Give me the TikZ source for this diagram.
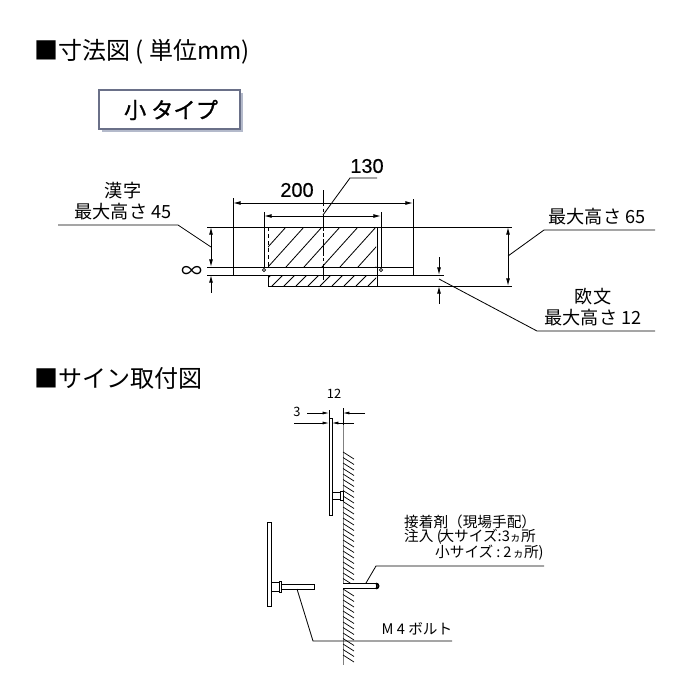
\documentclass[tikz,border=0pt]{standalone}
\usepackage{fontspec}
\setmainfont{Noto Sans CJK JP}
\newfontfamily\numfont[FakeBold=0.4]{Liberation Sans}
\newfontfamily\typefont[FakeBold=1]{Noto Sans CJK JP}
\usetikzlibrary{arrows.meta}
\definecolor{boxedge}{HTML}{6A7088}
\definecolor{boxshade}{HTML}{B4BACB}
\newcommand{\smallka}{{\fontsize{9.5}{9.5}\selectfont ヵ}}
\tikzset{
  title/.style={anchor=west,inner sep=0pt,font=\fontsize{20.5}{21}\selectfont},
  note/.style={inner sep=0pt,align=center,font=\fontsize{15.5}{18.5}\selectfont},
  small/.style={inner sep=0pt,anchor=west,font=\fontsize{12.5}{14}\selectfont},
  dimnum/.style={inner sep=0pt,font=\fontsize{17}{17}\selectfont\numfont},
  thin line/.style={line width=0.7pt},
  part/.style={line width=0.8pt},
  plate/.style={line width=0.6pt},
  dim/.style={line width=0.8pt,>={Latex[length=6.5pt,width=3.4pt]}},
  hatch/.style={line width=0.7pt}
}
\begin{document}
\begin{tikzpicture}[x=0.03cm,y=-0.03cm]
    \useasboundingbox (0,0) rectangle (700,700);
      %headings and the type box
    \node[title] (head1) at (34,52) {■寸法図 ( 単位mm)};
    \node[title] (head2) at (34,378) {■サイン取付図};
    \fill[boxshade] (102,93) rectangle (243,132);
    \filldraw[draw=boxedge,fill=white,line width=0.9pt] (99,90) rectangle (240,129);
    \node[inner sep=0pt,font=\fontsize{19}{19}\selectfont\typefont] (type) at (171,110) {小 タイプ};

      %hatching first, the lines go on top
    \begin{scope}
      \clip (268,227) rectangle (376,267);
      \foreach \x in {214,232,...,376}
        \draw[hatch] (\x,267) -- (\x+36,227);
    \end{scope}
    \begin{scope}
      \clip (268,275) rectangle (376,286);
      \foreach \x in {260,272,...,380}
        \draw[hatch] (\x,286) -- (\x+11,275);
    \end{scope}

      %front view
    \draw[part] (207,227) -- (512,227);
    \draw[part] (207,267) -- (413,267);
    \draw[part] (207,275) -- (444,275);
    \draw[part] (268,286) -- (512,286);
    \draw[thin line,dashed] (268,227) -- (268,267);
    \draw[thin line] (268,275) -- (268,286);
    \draw[thin line] (377,227) -- (377,286);
    \draw[thin line,dash pattern=on 14pt off 2pt on 3pt off 2pt] (323,190) -- (323,282);
    \draw[thin line] (233,198) -- (233,275);
    \draw[thin line] (413,199) -- (413,275);
    \draw[thin line] (264,212) -- (264,268);
    \draw[thin line] (381,212) -- (381,268);
    \draw[thin line,fill=white] (264,270) circle (1.6);
    \draw[thin line,fill=white] (381,270) circle (1.6);

      %dimensions
    \draw[dim,<->] (233,203) -- (413,203);
    \draw[dim,<->] (264,216) -- (381,216);
    \node[dimnum] (w200) at (297,190) {200};
    \node[dimnum] (w130) at (367,166) {130};
    \coordinate (c130) at (323,215);
    \draw[thin line] (c130) -- (350,178) -- (377,178);

    \draw[dim,<->] (211,227) -- (211,267);
    \draw[dim,<-] (211,275) -- (211,293);
    \node[inner sep=0pt,font=\fontsize{18}{18}\selectfont] (gap8) at (192,272) {∞};
    \draw[dim,<->] (508,227) -- (508,286);
    \draw[dim,->] (439,257) -- (439,275);
    \draw[dim,<-] (439,286) -- (439,304);

      %leaders with their notes
    \node[note] (kanji) at (123,201) {漢字\\最大高さ 45};
    \coordinate (l1) at (211,247);
    \draw[thin line] (58,225) -- (178,225) -- (l1);
    \node[note] (max65) at (597,217) {最大高さ 65};
    \coordinate (l2) at (508,256);
    \draw[thin line] (l2) -- (544,230) -- (655,230);
    \node[note] (latin) at (593,307) {欧文\\最大高さ 12};
    \coordinate (l3) at (439,279);
    \draw[thin line] (l3) -- (537,331) -- (655,331);

      %wall
    \draw[part,gray] (343,408) -- (343,583);
    \draw[part,gray] (343,588) -- (343,665);
    \foreach \y in {452,457.5,...,580}
      \draw[plate] (343,\y) -- (354,\y+7);
    \foreach \y in {589,594.5,...,658}
      \draw[plate] (343,\y) -- (354,\y+7);

      %upper plate on the wall
    \draw[plate] (329,418) rectangle (332,515);
    \draw[plate] (332,492) rectangle (340,499);
    \draw[plate] (340,491) rectangle (343,500);
    \draw[thin line] (329,410) -- (329,418);
    \draw[thin line] (332,418) -- (332,420);
    \draw[thin line] (343,408) -- (343,425);
    \node[inner sep=0pt,font=\fontsize{11}{11}\selectfont] (d12) at (334,394) {12};
    \node[inner sep=0pt,font=\fontsize{11}{11}\selectfont] (d3) at (297,412) {3};
    \draw[line width=0.6pt,>={Latex[length=5.5pt,width=2.6pt]},->] (307,413) -- (329,413);
    \draw[line width=0.6pt,>={Latex[length=5.5pt,width=2.6pt]},->] (365,413) -- (343,413);
    \draw[line width=0.6pt,>={Latex[length=5.5pt,width=2.6pt]},->] (294,423) -- (329,423);
    \draw[line width=0.6pt,>={Latex[length=5.5pt,width=2.6pt]},->] (354,423) -- (332,423);

      %lower plate, taken off the wall
    \draw[plate] (267,522) rectangle (271,606);
    \draw[plate] (271,582) rectangle (279,591);
    \draw[plate] (279,581) rectangle (281,592);
    \draw[plate] (281,584) rectangle (314,589);
    \coordinate (bolt) at (297,589);
    \draw[thin line] (bolt) -- (313,641) -- (452,641);
    \node[note,font=\fontsize{12.5}{13}\selectfont] (m4) at (417,629) {M 4 ボルト};

      %rod in the wall
    \draw[plate,fill=white] (343,583) -- (376,583) -- (376,588) -- (343,588);
    \draw[line width=1.6pt] (376,583.5) arc (-90:90:2.5);
    \coordinate (glue) at (366,583);
    \draw[thin line] (glue) -- (376,566) -- (544,566);
    \node[small] (glue1) at (404,522) {接着剤（現場手配）};
    \node[small] (glue2) at (404,537) {注入 (\hspace{-0.15em}大サイズ:3\smallka 所};
    \node[small] (glue3) at (435,553) {小サイズ\hspace{0.2em}:\hspace{0.2em}2\hspace{0.1em}\smallka 所)};
\end{tikzpicture}
\end{document}
